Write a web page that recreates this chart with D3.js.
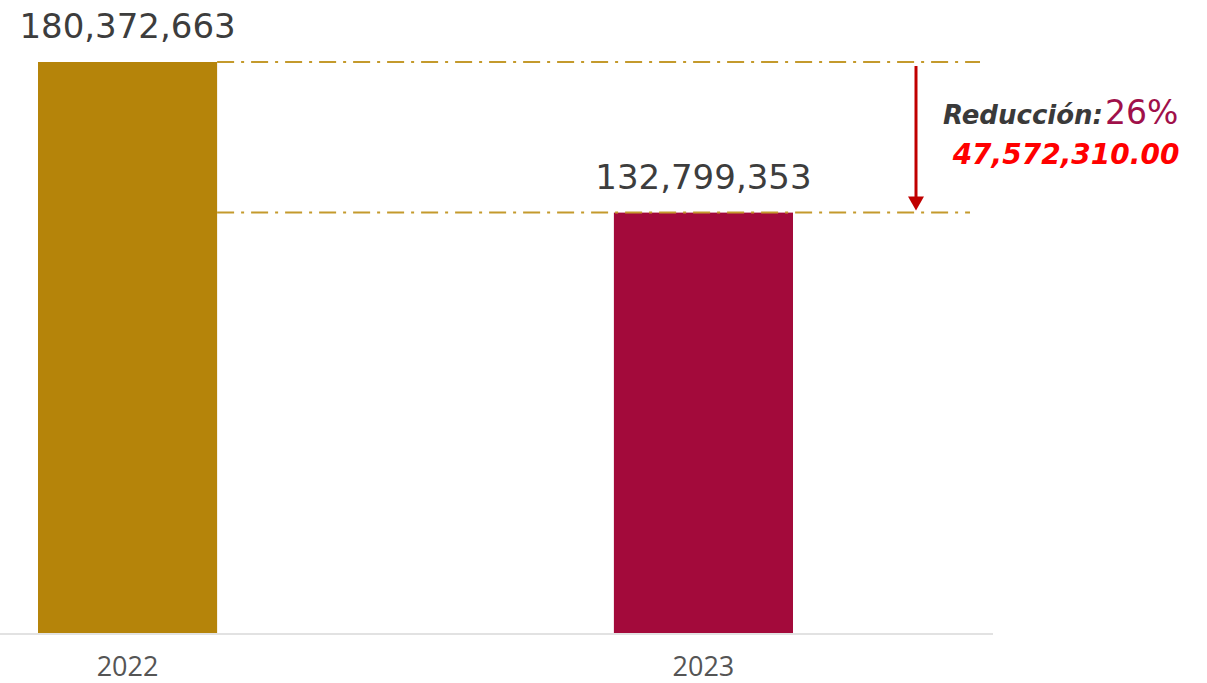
<!DOCTYPE html>
<html>
<head>
<meta charset="utf-8">
<script src="https://cdn.jsdelivr.net/npm/d3@7"></script>
<style>
  body { margin: 0; background: #fff; }
  text { font-family: "DejaVu Sans", sans-serif; }
</style>
</head>
<body>
<div id="chart"></div>
<script>
const years = ['2022', '2023'];
const values = [180372663, 132799353];
const reductionPct = '26%';
const reductionAmount = '47,572,310.00';

const W = 1207, H = 683;
const baseY = 633;

const svg = d3.select('#chart').append('svg').attr('width', W).attr('height', H);

// band scale tuned so bars sit at 38 and 614 with width ~179
const x = d3.scaleBand().domain(years).range([0, 831]).paddingInner(0.689).paddingOuter(0.066);
const y = d3.scaleLinear().domain([0, values[0]]).range([baseY, 62]);
const colors = ['#b5840a', '#a30a3b'];

// baseline
svg.append('line')
  .attr('x1', 0).attr('x2', 993)
  .attr('y1', baseY + 1).attr('y2', baseY + 1)
  .attr('stroke', '#d8d8d8').attr('stroke-width', 1.5);

svg.selectAll('rect.bar').data(values).enter().append('rect')
  .attr('class', 'bar')
  .attr('x', (d, i) => x(years[i]))
  .attr('y', (d) => y(d))
  .attr('width', x.bandwidth())
  .attr('height', (d) => baseY - y(d))
  .attr('fill', (d, i) => colors[i]);

// value labels
svg.selectAll('text.val').data(values).enter().append('text')
  .attr('class', 'val')
  .attr('x', (d, i) => x(years[i]) + x.bandwidth() / 2)
  .attr('y', (d) => y(d) - 24)
  .attr('text-anchor', 'middle')
  .attr('font-size', 34)
  .attr('fill', '#3d3d3d')
  .text((d) => d3.format(',')(d));

// year labels
svg.selectAll('text.year').data(years).enter().append('text')
  .attr('class', 'year')
  .attr('x', (d) => x(d) + x.bandwidth() / 2)
  .attr('y', 676)
  .attr('text-anchor', 'middle')
  .attr('font-size', 27)
  .style('font-family', '"Open Sans", sans-serif')
  .attr('fill', '#555')
  .text((d) => d);

// dash-dot reference lines
const barRight = x(years[0]) + x.bandwidth();
svg.append('line')
  .attr('x1', barRight).attr('x2', 980)
  .attr('y1', y(values[0])).attr('y2', y(values[0]))
  .attr('stroke', '#c49a2c').attr('stroke-width', 2)
  .attr('stroke-dasharray', '17,7,3,7');
svg.append('line')
  .attr('x1', barRight).attr('x2', 970)
  .attr('y1', y(values[1])).attr('y2', y(values[1]))
  .attr('stroke', '#c49a2c').attr('stroke-width', 2)
  .attr('stroke-dasharray', '17,7,3,7');

// arrow
svg.append('line')
  .attr('x1', 916).attr('x2', 916)
  .attr('y1', y(values[0]) + 4).attr('y2', y(values[1]) - 14)
  .attr('stroke', '#c00000').attr('stroke-width', 3);
svg.append('path')
  .attr('d', `M908,${y(values[1]) - 16} L924,${y(values[1]) - 16} L916,${y(values[1]) - 2} Z`)
  .attr('fill', '#c00000');

// reduction annotation
const note = svg.append('text').attr('x', 943).attr('y', 124);
note.append('tspan')
  .attr('font-size', 26).attr('font-weight', 'bold').attr('font-style', 'italic')
  .attr('fill', '#3a3a3a').text('Reducción:');
note.append('tspan')
  .attr('font-size', 33).attr('fill', '#a0104a').attr('dx', 2).text(reductionPct);

svg.append('text')
  .attr('x', 1066).attr('y', 164)
  .attr('text-anchor', 'middle')
  .attr('font-size', 28).attr('font-weight', 'bold').attr('font-style', 'italic')
  .attr('fill', '#ff0000')
  .text(reductionAmount);
</script>
</body>
</html>
